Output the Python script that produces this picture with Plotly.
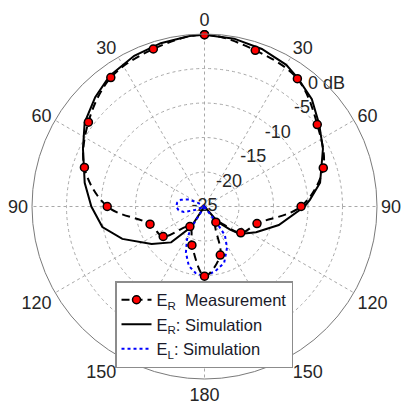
import plotly.graph_objects as go

# ---- data (angles in degrees, clockwise from top; levels in dB) ----
angle_tickvals = [0, 30, 60, 90, 120, 150, 180, 210, 240, 270, 300, 330]
angle_ticktext = ["0", "30", "60", "90", "120", "150", "180", "150", "120", "90", "60", "30"]

ring_vals = [-25, -20, -15, -10, -5, 0]
ring_text = ["-25", "-20", "-15", "-10", "-5", "0 dB"]

meas_theta = [0, 18, 36, 54, 72, 90, 108, 126, 144, 162, 180, 198, 216, 234, 252, 270, 288, 306, 324, 342, 360]
meas_db = [-0.1, -1.2, -2.1, -4.8, -6.9, -11.0, -17.0, -18.5, -22.2, -17.6, -14.9, -19.1, -21.4, -17.6, -16.7, -10.9, -6.7, -4.2, -1.9, -1.0, -0.1]

simR_theta = [0, 10, 20, 30, 36, 45, 54.4, 64, 78.4, 86.4, 90, 104, 116.5, 127.8, 132, 139, 141,
              212, 213.6, 222.9, 234.6, 248.5, 258.6, 270, 281.2, 295.4, 305, 315, 324, 335, 345, 355, 360]
simR_db = [-0.1, -0.3, -0.7, -1.3, -2.0, -3.0, -4.55, -5.9, -7.9, -9.7, -10.5, -13.9, -16.65, -18.5, -20.0, -22.0, -25,
           -25, -21.4, -17.9, -15.6, -12.2, -9.9, -8.6, -7.3, -5.5, -3.8, -2.6, -1.6, -0.9, -0.5, -0.2, -0.1]

simL_theta = [0, 142, 143.6, 144.6, 151.3, 160.8, 170.5, 180, 187.5, 194.8, 202, 208, 212, 213,
              245, 250, 255, 262, 270, 278, 286, 294, 300, 303, 360]
simL_db = [-25, -25, -21.6, -19.9, -18.2, -16.35, -15.5, -14.9, -15.25, -16.1, -17.8, -19.6, -21.3, -25,
           -25, -23.5, -21.9, -21.2, -20.9, -21.0, -21.45, -22.5, -24.0, -25, -25]

FONT = "Liberation Sans, Arial, sans-serif"
TXT = "#262626"

fig = go.Figure()

# radial level labels drawn along the 45 deg direction
fig.add_trace(go.Scatterpolar(
    r=ring_vals, theta=[45] * len(ring_vals), mode="text", text=ring_text,
    textposition="middle center", textfont=dict(family=FONT, size=18, color=TXT),
    showlegend=False, hoverinfo="skip", cliponaxis=False))

fig.add_trace(go.Scatterpolar(
    r=simR_db, theta=simR_theta, mode="lines",
    line=dict(color="black", width=2),
    name="E<sub>R</sub>: Simulation", legendrank=2))

fig.add_trace(go.Scatterpolar(
    r=simL_db, theta=simL_theta, mode="lines",
    line=dict(color="#0000ff", width=2, dash="dot"),
    name="E<sub>L</sub>: Simulation", legendrank=3))

fig.add_trace(go.Scatterpolar(
    r=meas_db, theta=meas_theta, mode="lines+markers",
    line=dict(color="black", width=2, dash="8px,5px", shape="spline"),
    marker=dict(color="red", size=8, line=dict(color="black", width=1.5)),
    name="E<sub>R</sub>  Measurement", legendrank=1))

fig.update_layout(
    width=409, height=405,
    margin=dict(l=32, r=32, t=34, b=26),
    paper_bgcolor="white",
    font=dict(family=FONT, color=TXT),
    polar=dict(
        domain=dict(x=[0, 1], y=[0, 1]),
        bgcolor="white",
        angularaxis=dict(
            rotation=90, direction="clockwise",
            tickmode="array", tickvals=angle_tickvals, ticktext=angle_ticktext,
            tickfont=dict(family=FONT, size=18, color=TXT),
            ticks="", showgrid=True, gridcolor="#a8a8a8", griddash="dot", gridwidth=1,
            showline=True, linecolor="#7a7a7a", linewidth=1),
        radialaxis=dict(
            range=[-25, 0], tickmode="array", tickvals=[-20, -15, -10, -5],
            showticklabels=False, ticks="", showline=False, angle=45,
            showgrid=True, gridcolor="#a8a8a8", griddash="dot", gridwidth=1),
    ),
    legend=dict(
        x=0.2406, y=0.284, xanchor="left", yanchor="top",
        bgcolor="white", bordercolor="#8c8c8c", borderwidth=1.5,
        font=dict(family=FONT, size=16.5, color="#1a1a2a"),
        itemwidth=30, tracegroupgap=0),
    showlegend=True,
)

fig.write_html("out.html")
